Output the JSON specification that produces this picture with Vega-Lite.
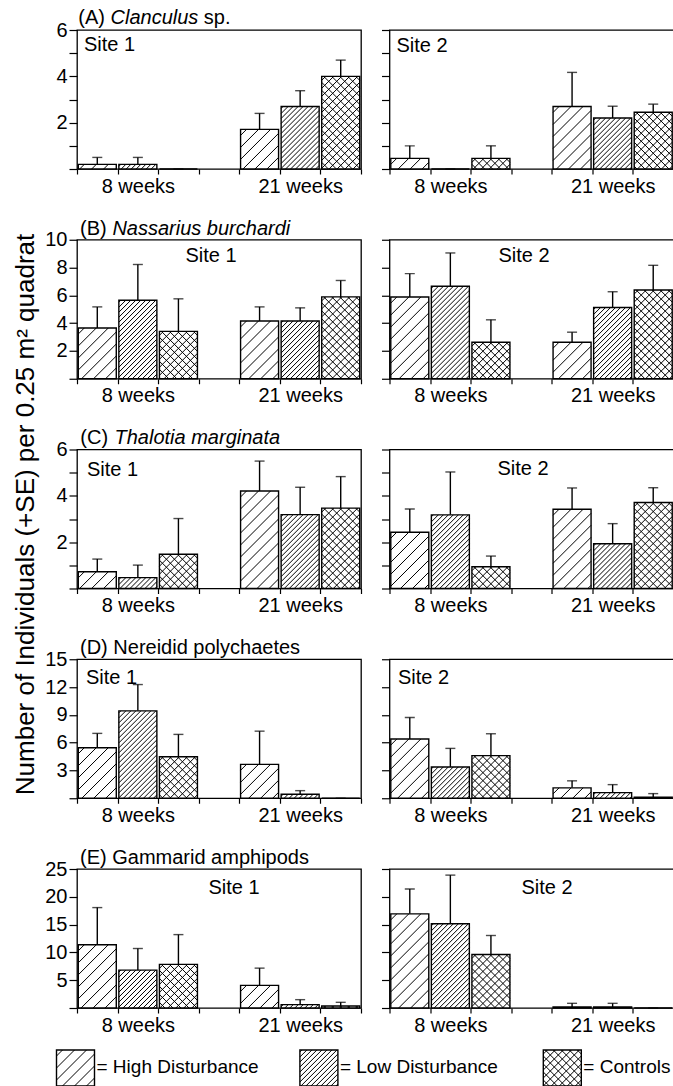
{
"$schema": "https://vega.github.io/schema/vega-lite/v6.json",
"padding": {"left": 11, "top": 7, "right": 0, "bottom": 0},
"datasets": {"bars": [
{"taxon":"A","site":"Site 1","week":"8 weeks","trt":"High","mean":0.2,"upper":0.5},
{"taxon":"A","site":"Site 1","week":"8 weeks","trt":"Low","mean":0.2,"upper":0.5},
{"taxon":"A","site":"Site 1","week":"8 weeks","trt":"Control","mean":0,"upper":0},
{"taxon":"A","site":"Site 1","week":"21 weeks","trt":"High","mean":1.71,"upper":2.4},
{"taxon":"A","site":"Site 1","week":"21 weeks","trt":"Low","mean":2.7,"upper":3.38},
{"taxon":"A","site":"Site 1","week":"21 weeks","trt":"Control","mean":4.0,"upper":4.7},
{"taxon":"A","site":"Site 2","week":"8 weeks","trt":"High","mean":0.46,"upper":1.0},
{"taxon":"A","site":"Site 2","week":"8 weeks","trt":"Low","mean":0,"upper":0},
{"taxon":"A","site":"Site 2","week":"8 weeks","trt":"Control","mean":0.46,"upper":1.0},
{"taxon":"A","site":"Site 2","week":"21 weeks","trt":"High","mean":2.7,"upper":4.17},
{"taxon":"A","site":"Site 2","week":"21 weeks","trt":"Low","mean":2.2,"upper":2.71},
{"taxon":"A","site":"Site 2","week":"21 weeks","trt":"Control","mean":2.45,"upper":2.8},
{"taxon":"B","site":"Site 1","week":"8 weeks","trt":"High","mean":3.65,"upper":5.17},
{"taxon":"B","site":"Site 1","week":"8 weeks","trt":"Low","mean":5.65,"upper":8.22},
{"taxon":"B","site":"Site 1","week":"8 weeks","trt":"Control","mean":3.41,"upper":5.75},
{"taxon":"B","site":"Site 1","week":"21 weeks","trt":"High","mean":4.16,"upper":5.17},
{"taxon":"B","site":"Site 1","week":"21 weeks","trt":"Low","mean":4.16,"upper":5.1},
{"taxon":"B","site":"Site 1","week":"21 weeks","trt":"Control","mean":5.89,"upper":7.07},
{"taxon":"B","site":"Site 2","week":"8 weeks","trt":"High","mean":5.88,"upper":7.56},
{"taxon":"B","site":"Site 2","week":"8 weeks","trt":"Low","mean":6.65,"upper":9.05},
{"taxon":"B","site":"Site 2","week":"8 weeks","trt":"Control","mean":2.63,"upper":4.24},
{"taxon":"B","site":"Site 2","week":"21 weeks","trt":"High","mean":2.63,"upper":3.35},
{"taxon":"B","site":"Site 2","week":"21 weeks","trt":"Low","mean":5.13,"upper":6.26},
{"taxon":"B","site":"Site 2","week":"21 weeks","trt":"Control","mean":6.38,"upper":8.16},
{"taxon":"C","site":"Site 1","week":"8 weeks","trt":"High","mean":0.72,"upper":1.27},
{"taxon":"C","site":"Site 1","week":"8 weeks","trt":"Low","mean":0.47,"upper":1.01},
{"taxon":"C","site":"Site 1","week":"8 weeks","trt":"Control","mean":1.48,"upper":3.02},
{"taxon":"C","site":"Site 1","week":"21 weeks","trt":"High","mean":4.21,"upper":5.5},
{"taxon":"C","site":"Site 1","week":"21 weeks","trt":"Low","mean":3.19,"upper":4.37},
{"taxon":"C","site":"Site 1","week":"21 weeks","trt":"Control","mean":3.47,"upper":4.83},
{"taxon":"C","site":"Site 2","week":"8 weeks","trt":"High","mean":2.43,"upper":3.43},
{"taxon":"C","site":"Site 2","week":"8 weeks","trt":"Low","mean":3.18,"upper":5.03},
{"taxon":"C","site":"Site 2","week":"8 weeks","trt":"Control","mean":0.94,"upper":1.4},
{"taxon":"C","site":"Site 2","week":"21 weeks","trt":"High","mean":3.42,"upper":4.34},
{"taxon":"C","site":"Site 2","week":"21 weeks","trt":"Low","mean":1.93,"upper":2.8},
{"taxon":"C","site":"Site 2","week":"21 weeks","trt":"Control","mean":3.71,"upper":4.35},
{"taxon":"D","site":"Site 1","week":"8 weeks","trt":"High","mean":5.45,"upper":7.0},
{"taxon":"D","site":"Site 1","week":"8 weeks","trt":"Low","mean":9.43,"upper":12.27},
{"taxon":"D","site":"Site 1","week":"8 weeks","trt":"Control","mean":4.48,"upper":6.89},
{"taxon":"D","site":"Site 1","week":"21 weeks","trt":"High","mean":3.66,"upper":7.24},
{"taxon":"D","site":"Site 1","week":"21 weeks","trt":"Low","mean":0.43,"upper":0.82},
{"taxon":"D","site":"Site 1","week":"21 weeks","trt":"Control","mean":0,"upper":0},
{"taxon":"D","site":"Site 2","week":"8 weeks","trt":"High","mean":6.39,"upper":8.72},
{"taxon":"D","site":"Site 2","week":"8 weeks","trt":"Low","mean":3.38,"upper":5.38},
{"taxon":"D","site":"Site 2","week":"8 weeks","trt":"Control","mean":4.6,"upper":6.96},
{"taxon":"D","site":"Site 2","week":"21 weeks","trt":"High","mean":1.12,"upper":1.88},
{"taxon":"D","site":"Site 2","week":"21 weeks","trt":"Low","mean":0.61,"upper":1.47},
{"taxon":"D","site":"Site 2","week":"21 weeks","trt":"Control","mean":0.1,"upper":0.5},
{"taxon":"E","site":"Site 1","week":"8 weeks","trt":"High","mean":11.37,"upper":18.06},
{"taxon":"E","site":"Site 1","week":"8 weeks","trt":"Low","mean":6.81,"upper":10.7},
{"taxon":"E","site":"Site 1","week":"8 weeks","trt":"Control","mean":7.84,"upper":13.2},
{"taxon":"E","site":"Site 1","week":"21 weeks","trt":"High","mean":4.07,"upper":7.17},
{"taxon":"E","site":"Site 1","week":"21 weeks","trt":"Low","mean":0.6,"upper":1.5},
{"taxon":"E","site":"Site 1","week":"21 weeks","trt":"Control","mean":0.36,"upper":1.02},
{"taxon":"E","site":"Site 2","week":"8 weeks","trt":"High","mean":16.93,"upper":21.4},
{"taxon":"E","site":"Site 2","week":"8 weeks","trt":"Low","mean":15.14,"upper":23.9},
{"taxon":"E","site":"Site 2","week":"8 weeks","trt":"Control","mean":9.63,"upper":13.04},
{"taxon":"E","site":"Site 2","week":"21 weeks","trt":"High","mean":0.18,"upper":0.84},
{"taxon":"E","site":"Site 2","week":"21 weeks","trt":"Low","mean":0.18,"upper":0.84},
{"taxon":"E","site":"Site 2","week":"21 weeks","trt":"Control","mean":0,"upper":0}
]},
"config": {
  "font": "Liberation Sans",
  "view": {"stroke": "black", "strokeWidth": 1.3, "fill": null},
  "text": {"font": "Liberation Sans", "fontSize": 20, "color": "black"},
  "axis": {"domain": false, "grid": false, "ticks": true, "tickColor": "black", "tickWidth": 1.2, "labelColor": "black", "labelFont": "Liberation Sans", "labelFontSize": 20, "labelOverlap": false, "titleFont": "Liberation Sans", "titleColor": "black", "titleFontWeight": "normal"},
  "axisX": {"tickSize": 5, "labelPadding": 2},
  "axisY": {"tickSize": 8, "labelPadding": 2, "labelOverlap": false, "tickCount": 20, "format": "d"},
  "range": {"symbol": [
    "M-19,6L-13,0M-19,18L-1,0M-19,30L11,0M-19,42L19,4M-19,54L19,16M-19,66L19,28M-19,78L19,40M-19,90L19,52M-19,102L19,64M-19,114L19,76M-19,126L19,88M-19,138L19,100M-19,150L19,112M-19,162L19,124M-19,174L19,136M-19,186L19,148",
    "M-19,2L-17,0M-19,7L-12,0M-19,12L-7,0M-19,17L-2,0M-19,22L3,0M-19,27L8,0M-19,32L13,0M-19,37L18,0M-19,42L19,4M-19,47L19,9M-19,52L19,14M-19,57L19,19M-19,62L19,24M-19,67L19,29M-19,72L19,34M-19,77L19,39M-19,82L19,44M-19,87L19,49M-19,92L19,54M-19,97L19,59M-19,102L19,64M-19,107L19,69M-19,112L19,74M-19,117L19,79M-19,122L19,84M-19,127L19,89M-19,132L19,94M-19,137L19,99M-19,142L19,104M-19,147L19,109M-19,152L19,114M-19,157L19,119M-19,162L19,124M-19,167L19,129M-19,172L19,134M-19,177L19,139M-19,182L19,144",
    "M-19,4L-15,0M-19,12L-7,0M-19,20L1,0M-19,28L9,0M-19,36L17,0M-19,44L19,6M-19,52L19,14M-19,60L19,22M-19,68L19,30M-19,76L19,38M-19,84L19,46M-19,92L19,54M-19,100L19,62M-19,108L19,70M-19,116L19,78M-19,124L19,86M-19,132L19,94M-19,140L19,102M-19,148L19,110M-19,156L19,118M-19,164L19,126M-19,172L19,134M-19,180L19,142M15,0L19,4M7,0L19,12M-1,0L19,20M-9,0L19,28M-17,0L19,36M-19,6L19,44M-19,14L19,52M-19,22L19,60M-19,30L19,68M-19,38L19,76M-19,46L19,84M-19,54L19,92M-19,62L19,100M-19,70L19,108M-19,78L19,116M-19,86L19,124M-19,94L19,132M-19,102L19,140M-19,110L19,148M-19,118L19,156M-19,126L19,164M-19,134L19,172M-19,142L19,180"
  ]}
},
"bounds": "flush",
"columns": 2,
"spacing": {"row": 70.75, "column": 28.5},
"concat": [
  {"width": 284, "height": 139, "data": {"name": "bars"},
   "transform": [{"filter": "datum.taxon === 'A' && datum.site === 'Site 1'"}, {"calculate": "datum.week + '|' + datum.trt", "as": "slot"}],
   "encoding": {"x": {"field": "slot", "type": "nominal", "title": null, "scale": {"domain": ["8 weeks|High","8 weeks|Low","8 weeks|Control","gap","21 weeks|High","21 weeks|Low","21 weeks|Control"], "paddingInner": 0, "paddingOuter": 0}, "axis": {"title": null, "tickBand": "extent", "labelAngle": 0, "labelOverlap": false, "labelExpr": "datum.value === '8 weeks|Low' ? '8 weeks' : (datum.value === '21 weeks|Low' ? '21 weeks' : '')"}}},
   "layer": [
    {"mark": {"type": "rule", "color": "black", "strokeWidth": 1.4}, "encoding": {"y": {"field": "mean", "type": "quantitative", "title": null, "scale": {"domain": [0, 6], "nice": false}, "axis": {"values": [0,1,2,3,4,5,6], "tickCount": 20, "format": "d", "labelOverlap": false, "labelExpr": "datum.value > 0 && datum.value % 2 === 0 ? datum.label : ''", "title": null}}, "y2": {"field": "upper"}}},
    {"mark": {"type": "tick", "color": "black", "size": 10, "thickness": 1.4}, "encoding": {"y": {"field": "upper", "type": "quantitative", "title": null}}},
    {"mark": {"type": "bar", "fill": "white", "width": 38}, "encoding": {"y": {"field": "mean", "type": "quantitative", "title": null}}},
    {"mark": {"type": "point", "size": 4, "filled": false, "color": "black", "strokeWidth": 1, "opacity": 1, "clip": true}, "encoding": {"y": {"field": "mean", "type": "quantitative", "title": null}, "shape": {"field": "trt", "type": "nominal", "scale": {"domain": ["High","Low","Control"]}, "legend": null}}},
    {"mark": {"type": "bar", "fillOpacity": 0, "stroke": "black", "strokeWidth": 1.4, "width": 38}, "encoding": {"y": {"field": "mean", "type": "quantitative", "title": null}}},
    {"data": {"values": [{}]}, "mark": {"type": "text", "text": "(A)", "align": "left", "baseline": "alphabetic", "dx": 1.3, "dy": -5.7}, "encoding": {"x": {"datum": "8 weeks|High", "type": "nominal", "bandPosition": 0, "title": null}, "y": {"datum": 6, "type": "quantitative", "title": null}}},
    {"data": {"values": [{}]}, "mark": {"type": "text", "text": "Clanculus", "fontStyle": "italic", "align": "left", "baseline": "alphabetic", "dx": 33.5, "dy": -5.7}, "encoding": {"x": {"datum": "8 weeks|High", "type": "nominal", "bandPosition": 0, "title": null}, "y": {"datum": 6, "type": "quantitative", "title": null}}},
    {"data": {"values": [{}]}, "mark": {"type": "text", "text": "sp.", "align": "left", "baseline": "alphabetic", "dx": 126.8, "dy": -5.7}, "encoding": {"x": {"datum": "8 weeks|High", "type": "nominal", "bandPosition": 0, "title": null}, "y": {"datum": 6, "type": "quantitative", "title": null}}},
    {"data": {"values": [{}]}, "mark": {"type": "text", "text": "Site 1", "align": "left", "baseline": "alphabetic", "dx": 7, "dy": 21}, "encoding": {"x": {"datum": "8 weeks|High", "type": "nominal", "bandPosition": 0, "title": null}, "y": {"datum": 6, "type": "quantitative", "title": null}}}
   ]},
  {"width": 284, "height": 139, "data": {"name": "bars"},
   "transform": [{"filter": "datum.taxon === 'A' && datum.site === 'Site 2'"}, {"calculate": "datum.week + '|' + datum.trt", "as": "slot"}],
   "encoding": {"x": {"field": "slot", "type": "nominal", "title": null, "scale": {"domain": ["8 weeks|High","8 weeks|Low","8 weeks|Control","gap","21 weeks|High","21 weeks|Low","21 weeks|Control"], "paddingInner": 0, "paddingOuter": 0}, "axis": {"title": null, "tickBand": "extent", "labelAngle": 0, "labelOverlap": false, "labelExpr": "datum.value === '8 weeks|Low' ? '8 weeks' : (datum.value === '21 weeks|Low' ? '21 weeks' : '')"}}},
   "layer": [
    {"mark": {"type": "rule", "color": "black", "strokeWidth": 1.4}, "encoding": {"y": {"field": "mean", "type": "quantitative", "title": null, "scale": {"domain": [0, 6], "nice": false}, "axis": {"values": [0,1,2,3,4,5,6], "tickCount": 20, "labels": false, "title": null}}, "y2": {"field": "upper"}}},
    {"mark": {"type": "tick", "color": "black", "size": 10, "thickness": 1.4}, "encoding": {"y": {"field": "upper", "type": "quantitative", "title": null}}},
    {"mark": {"type": "bar", "fill": "white", "width": 38}, "encoding": {"y": {"field": "mean", "type": "quantitative", "title": null}}},
    {"mark": {"type": "point", "size": 4, "filled": false, "color": "black", "strokeWidth": 1, "opacity": 1, "clip": true}, "encoding": {"y": {"field": "mean", "type": "quantitative", "title": null}, "shape": {"field": "trt", "type": "nominal", "scale": {"domain": ["High","Low","Control"]}, "legend": null}}},
    {"mark": {"type": "bar", "fillOpacity": 0, "stroke": "black", "strokeWidth": 1.4, "width": 38}, "encoding": {"y": {"field": "mean", "type": "quantitative", "title": null}}},
    {"data": {"values": [{}]}, "mark": {"type": "text", "text": "Site 2", "align": "left", "baseline": "alphabetic", "dx": 7, "dy": 21.5}, "encoding": {"x": {"datum": "8 weeks|High", "type": "nominal", "bandPosition": 0, "title": null}, "y": {"datum": 6, "type": "quantitative", "title": null}}}
   ]},
  {"width": 284, "height": 139, "data": {"name": "bars"},
   "transform": [{"filter": "datum.taxon === 'B' && datum.site === 'Site 1'"}, {"calculate": "datum.week + '|' + datum.trt", "as": "slot"}],
   "encoding": {"x": {"field": "slot", "type": "nominal", "title": null, "scale": {"domain": ["8 weeks|High","8 weeks|Low","8 weeks|Control","gap","21 weeks|High","21 weeks|Low","21 weeks|Control"], "paddingInner": 0, "paddingOuter": 0}, "axis": {"title": null, "tickBand": "extent", "labelAngle": 0, "labelOverlap": false, "labelExpr": "datum.value === '8 weeks|Low' ? '8 weeks' : (datum.value === '21 weeks|Low' ? '21 weeks' : '')"}}},
   "layer": [
    {"mark": {"type": "rule", "color": "black", "strokeWidth": 1.4}, "encoding": {"y": {"field": "mean", "type": "quantitative", "title": null, "scale": {"domain": [0, 10], "nice": false}, "axis": {"values": [0,2,4,6,8,10], "tickCount": 20, "format": "d", "labelOverlap": false, "labelExpr": "datum.value > 0 ? datum.label : ''", "title": null}}, "y2": {"field": "upper"}}},
    {"mark": {"type": "tick", "color": "black", "size": 10, "thickness": 1.4}, "encoding": {"y": {"field": "upper", "type": "quantitative", "title": null}}},
    {"mark": {"type": "bar", "fill": "white", "width": 38}, "encoding": {"y": {"field": "mean", "type": "quantitative", "title": null}}},
    {"mark": {"type": "point", "size": 4, "filled": false, "color": "black", "strokeWidth": 1, "opacity": 1, "clip": true}, "encoding": {"y": {"field": "mean", "type": "quantitative", "title": null}, "shape": {"field": "trt", "type": "nominal", "scale": {"domain": ["High","Low","Control"]}, "legend": null}}},
    {"mark": {"type": "bar", "fillOpacity": 0, "stroke": "black", "strokeWidth": 1.4, "width": 38}, "encoding": {"y": {"field": "mean", "type": "quantitative", "title": null}}},
    {"data": {"values": [{}]}, "mark": {"type": "text", "text": "(B)", "align": "left", "baseline": "alphabetic", "dx": 3, "dy": -4.8}, "encoding": {"x": {"datum": "8 weeks|High", "type": "nominal", "bandPosition": 0, "title": null}, "y": {"datum": 10, "type": "quantitative", "title": null}}},
    {"data": {"values": [{}]}, "mark": {"type": "text", "text": "Nassarius burchardi", "fontStyle": "italic", "align": "left", "baseline": "alphabetic", "dx": 35.4, "dy": -4.8}, "encoding": {"x": {"datum": "8 weeks|High", "type": "nominal", "bandPosition": 0, "title": null}, "y": {"datum": 10, "type": "quantitative", "title": null}}},
    {"data": {"values": [{}]}, "mark": {"type": "text", "text": "Site 1", "align": "center", "baseline": "alphabetic", "dx": 134, "dy": 22.5}, "encoding": {"x": {"datum": "8 weeks|High", "type": "nominal", "bandPosition": 0, "title": null}, "y": {"datum": 10, "type": "quantitative", "title": null}}}
   ]},
  {"width": 284, "height": 139, "data": {"name": "bars"},
   "transform": [{"filter": "datum.taxon === 'B' && datum.site === 'Site 2'"}, {"calculate": "datum.week + '|' + datum.trt", "as": "slot"}],
   "encoding": {"x": {"field": "slot", "type": "nominal", "title": null, "scale": {"domain": ["8 weeks|High","8 weeks|Low","8 weeks|Control","gap","21 weeks|High","21 weeks|Low","21 weeks|Control"], "paddingInner": 0, "paddingOuter": 0}, "axis": {"title": null, "tickBand": "extent", "labelAngle": 0, "labelOverlap": false, "labelExpr": "datum.value === '8 weeks|Low' ? '8 weeks' : (datum.value === '21 weeks|Low' ? '21 weeks' : '')"}}},
   "layer": [
    {"mark": {"type": "rule", "color": "black", "strokeWidth": 1.4}, "encoding": {"y": {"field": "mean", "type": "quantitative", "title": null, "scale": {"domain": [0, 10], "nice": false}, "axis": {"values": [0,2,4,6,8,10], "tickCount": 20, "labels": false, "title": null}}, "y2": {"field": "upper"}}},
    {"mark": {"type": "tick", "color": "black", "size": 10, "thickness": 1.4}, "encoding": {"y": {"field": "upper", "type": "quantitative", "title": null}}},
    {"mark": {"type": "bar", "fill": "white", "width": 38}, "encoding": {"y": {"field": "mean", "type": "quantitative", "title": null}}},
    {"mark": {"type": "point", "size": 4, "filled": false, "color": "black", "strokeWidth": 1, "opacity": 1, "clip": true}, "encoding": {"y": {"field": "mean", "type": "quantitative", "title": null}, "shape": {"field": "trt", "type": "nominal", "scale": {"domain": ["High","Low","Control"]}, "legend": null}}},
    {"mark": {"type": "bar", "fillOpacity": 0, "stroke": "black", "strokeWidth": 1.4, "width": 38}, "encoding": {"y": {"field": "mean", "type": "quantitative", "title": null}}},
    {"data": {"values": [{}]}, "mark": {"type": "text", "text": "Site 2", "align": "center", "baseline": "alphabetic", "dx": 134.5, "dy": 22}, "encoding": {"x": {"datum": "8 weeks|High", "type": "nominal", "bandPosition": 0, "title": null}, "y": {"datum": 10, "type": "quantitative", "title": null}}}
   ]},
  {"width": 284, "height": 139, "data": {"name": "bars"},
   "transform": [{"filter": "datum.taxon === 'C' && datum.site === 'Site 1'"}, {"calculate": "datum.week + '|' + datum.trt", "as": "slot"}],
   "encoding": {"x": {"field": "slot", "type": "nominal", "title": null, "scale": {"domain": ["8 weeks|High","8 weeks|Low","8 weeks|Control","gap","21 weeks|High","21 weeks|Low","21 weeks|Control"], "paddingInner": 0, "paddingOuter": 0}, "axis": {"title": null, "tickBand": "extent", "labelAngle": 0, "labelOverlap": false, "labelExpr": "datum.value === '8 weeks|Low' ? '8 weeks' : (datum.value === '21 weeks|Low' ? '21 weeks' : '')"}}},
   "layer": [
    {"mark": {"type": "rule", "color": "black", "strokeWidth": 1.4}, "encoding": {"y": {"field": "mean", "type": "quantitative", "title": "Number of Individuals (+SE) per 0.25 m² quadrat", "scale": {"domain": [0, 6], "nice": false}, "axis": {"values": [0,1,2,3,4,5,6], "tickCount": 20, "format": "d", "labelOverlap": false, "labelExpr": "datum.value > 0 && datum.value % 2 === 0 ? datum.label : ''", "title": "Number of Individuals (+SE) per 0.25 m² quadrat", "titleFontSize": 26, "titlePadding": 18, "titleY": 64.5, "minExtent": 21, "maxExtent": 21}}, "y2": {"field": "upper"}}},
    {"mark": {"type": "tick", "color": "black", "size": 10, "thickness": 1.4}, "encoding": {"y": {"field": "upper", "type": "quantitative"}}},
    {"mark": {"type": "bar", "fill": "white", "width": 38}, "encoding": {"y": {"field": "mean", "type": "quantitative"}}},
    {"mark": {"type": "point", "size": 4, "filled": false, "color": "black", "strokeWidth": 1, "opacity": 1, "clip": true}, "encoding": {"y": {"field": "mean", "type": "quantitative"}, "shape": {"field": "trt", "type": "nominal", "scale": {"domain": ["High","Low","Control"]}, "legend": null}}},
    {"mark": {"type": "bar", "fillOpacity": 0, "stroke": "black", "strokeWidth": 1.4, "width": 38}, "encoding": {"y": {"field": "mean", "type": "quantitative"}}},
    {"data": {"values": [{}]}, "mark": {"type": "text", "text": "(C)", "align": "left", "baseline": "alphabetic", "dx": 3.3, "dy": -5.6}, "encoding": {"x": {"datum": "8 weeks|High", "type": "nominal", "bandPosition": 0, "title": null}, "y": {"datum": 6, "type": "quantitative"}}},
    {"data": {"values": [{}]}, "mark": {"type": "text", "text": "Thalotia marginata", "fontStyle": "italic", "align": "left", "baseline": "alphabetic", "dx": 37.5, "dy": -5.6}, "encoding": {"x": {"datum": "8 weeks|High", "type": "nominal", "bandPosition": 0, "title": null}, "y": {"datum": 6, "type": "quantitative"}}},
    {"data": {"values": [{}]}, "mark": {"type": "text", "text": "Site 1", "align": "left", "baseline": "alphabetic", "dx": 10, "dy": 26}, "encoding": {"x": {"datum": "8 weeks|High", "type": "nominal", "bandPosition": 0, "title": null}, "y": {"datum": 6, "type": "quantitative"}}}
   ]},
  {"width": 284, "height": 139, "data": {"name": "bars"},
   "transform": [{"filter": "datum.taxon === 'C' && datum.site === 'Site 2'"}, {"calculate": "datum.week + '|' + datum.trt", "as": "slot"}],
   "encoding": {"x": {"field": "slot", "type": "nominal", "title": null, "scale": {"domain": ["8 weeks|High","8 weeks|Low","8 weeks|Control","gap","21 weeks|High","21 weeks|Low","21 weeks|Control"], "paddingInner": 0, "paddingOuter": 0}, "axis": {"title": null, "tickBand": "extent", "labelAngle": 0, "labelOverlap": false, "labelExpr": "datum.value === '8 weeks|Low' ? '8 weeks' : (datum.value === '21 weeks|Low' ? '21 weeks' : '')"}}},
   "layer": [
    {"mark": {"type": "rule", "color": "black", "strokeWidth": 1.4}, "encoding": {"y": {"field": "mean", "type": "quantitative", "title": null, "scale": {"domain": [0, 6], "nice": false}, "axis": {"values": [0,1,2,3,4,5,6], "tickCount": 20, "labels": false, "title": null}}, "y2": {"field": "upper"}}},
    {"mark": {"type": "tick", "color": "black", "size": 10, "thickness": 1.4}, "encoding": {"y": {"field": "upper", "type": "quantitative", "title": null}}},
    {"mark": {"type": "bar", "fill": "white", "width": 38}, "encoding": {"y": {"field": "mean", "type": "quantitative", "title": null}}},
    {"mark": {"type": "point", "size": 4, "filled": false, "color": "black", "strokeWidth": 1, "opacity": 1, "clip": true}, "encoding": {"y": {"field": "mean", "type": "quantitative", "title": null}, "shape": {"field": "trt", "type": "nominal", "scale": {"domain": ["High","Low","Control"]}, "legend": null}}},
    {"mark": {"type": "bar", "fillOpacity": 0, "stroke": "black", "strokeWidth": 1.4, "width": 38}, "encoding": {"y": {"field": "mean", "type": "quantitative", "title": null}}},
    {"data": {"values": [{}]}, "mark": {"type": "text", "text": "Site 2", "align": "center", "baseline": "alphabetic", "dx": 133.5, "dy": 25.5}, "encoding": {"x": {"datum": "8 weeks|High", "type": "nominal", "bandPosition": 0, "title": null}, "y": {"datum": 6, "type": "quantitative", "title": null}}}
   ]},
  {"width": 284, "height": 139, "data": {"name": "bars"},
   "transform": [{"filter": "datum.taxon === 'D' && datum.site === 'Site 1'"}, {"calculate": "datum.week + '|' + datum.trt", "as": "slot"}],
   "encoding": {"x": {"field": "slot", "type": "nominal", "title": null, "scale": {"domain": ["8 weeks|High","8 weeks|Low","8 weeks|Control","gap","21 weeks|High","21 weeks|Low","21 weeks|Control"], "paddingInner": 0, "paddingOuter": 0}, "axis": {"title": null, "tickBand": "extent", "labelAngle": 0, "labelOverlap": false, "labelExpr": "datum.value === '8 weeks|Low' ? '8 weeks' : (datum.value === '21 weeks|Low' ? '21 weeks' : '')"}}},
   "layer": [
    {"mark": {"type": "rule", "color": "black", "strokeWidth": 1.4}, "encoding": {"y": {"field": "mean", "type": "quantitative", "title": null, "scale": {"domain": [0, 15], "nice": false}, "axis": {"values": [0,3,6,9,12,15], "tickCount": 20, "format": "d", "labelOverlap": false, "labelExpr": "datum.value > 0 ? datum.label : ''", "title": null}}, "y2": {"field": "upper"}}},
    {"mark": {"type": "tick", "color": "black", "size": 10, "thickness": 1.4}, "encoding": {"y": {"field": "upper", "type": "quantitative", "title": null}}},
    {"mark": {"type": "bar", "fill": "white", "width": 38}, "encoding": {"y": {"field": "mean", "type": "quantitative", "title": null}}},
    {"mark": {"type": "point", "size": 4, "filled": false, "color": "black", "strokeWidth": 1, "opacity": 1, "clip": true}, "encoding": {"y": {"field": "mean", "type": "quantitative", "title": null}, "shape": {"field": "trt", "type": "nominal", "scale": {"domain": ["High","Low","Control"]}, "legend": null}}},
    {"mark": {"type": "bar", "fillOpacity": 0, "stroke": "black", "strokeWidth": 1.4, "width": 38}, "encoding": {"y": {"field": "mean", "type": "quantitative", "title": null}}},
    {"data": {"values": [{}]}, "mark": {"type": "text", "text": "(D) Nereidid polychaetes", "align": "left", "baseline": "alphabetic", "dx": 3, "dy": -5.7}, "encoding": {"x": {"datum": "8 weeks|High", "type": "nominal", "bandPosition": 0, "title": null}, "y": {"datum": 15, "type": "quantitative", "title": null}}},
    {"data": {"values": [{}]}, "mark": {"type": "text", "text": "Site 1", "align": "left", "baseline": "alphabetic", "dx": 9, "dy": 24.5}, "encoding": {"x": {"datum": "8 weeks|High", "type": "nominal", "bandPosition": 0, "title": null}, "y": {"datum": 15, "type": "quantitative", "title": null}}}
   ]},
  {"width": 284, "height": 139, "data": {"name": "bars"},
   "transform": [{"filter": "datum.taxon === 'D' && datum.site === 'Site 2'"}, {"calculate": "datum.week + '|' + datum.trt", "as": "slot"}],
   "encoding": {"x": {"field": "slot", "type": "nominal", "title": null, "scale": {"domain": ["8 weeks|High","8 weeks|Low","8 weeks|Control","gap","21 weeks|High","21 weeks|Low","21 weeks|Control"], "paddingInner": 0, "paddingOuter": 0}, "axis": {"title": null, "tickBand": "extent", "labelAngle": 0, "labelOverlap": false, "labelExpr": "datum.value === '8 weeks|Low' ? '8 weeks' : (datum.value === '21 weeks|Low' ? '21 weeks' : '')"}}},
   "layer": [
    {"mark": {"type": "rule", "color": "black", "strokeWidth": 1.4}, "encoding": {"y": {"field": "mean", "type": "quantitative", "title": null, "scale": {"domain": [0, 15], "nice": false}, "axis": {"values": [0,3,6,9,12,15], "tickCount": 20, "labels": false, "title": null}}, "y2": {"field": "upper"}}},
    {"mark": {"type": "tick", "color": "black", "size": 10, "thickness": 1.4}, "encoding": {"y": {"field": "upper", "type": "quantitative", "title": null}}},
    {"mark": {"type": "bar", "fill": "white", "width": 38}, "encoding": {"y": {"field": "mean", "type": "quantitative", "title": null}}},
    {"mark": {"type": "point", "size": 4, "filled": false, "color": "black", "strokeWidth": 1, "opacity": 1, "clip": true}, "encoding": {"y": {"field": "mean", "type": "quantitative", "title": null}, "shape": {"field": "trt", "type": "nominal", "scale": {"domain": ["High","Low","Control"]}, "legend": null}}},
    {"mark": {"type": "bar", "fillOpacity": 0, "stroke": "black", "strokeWidth": 1.4, "width": 38}, "encoding": {"y": {"field": "mean", "type": "quantitative", "title": null}}},
    {"data": {"values": [{}]}, "mark": {"type": "text", "text": "Site 2", "align": "left", "baseline": "alphabetic", "dx": 8.5, "dy": 25}, "encoding": {"x": {"datum": "8 weeks|High", "type": "nominal", "bandPosition": 0, "title": null}, "y": {"datum": 15, "type": "quantitative", "title": null}}}
   ]},
  {"width": 284, "height": 139, "data": {"name": "bars"},
   "transform": [{"filter": "datum.taxon === 'E' && datum.site === 'Site 1'"}, {"calculate": "datum.week + '|' + datum.trt", "as": "slot"}],
   "encoding": {"x": {"field": "slot", "type": "nominal", "title": null, "scale": {"domain": ["8 weeks|High","8 weeks|Low","8 weeks|Control","gap","21 weeks|High","21 weeks|Low","21 weeks|Control"], "paddingInner": 0, "paddingOuter": 0}, "axis": {"title": null, "tickBand": "extent", "labelAngle": 0, "labelOverlap": false, "labelExpr": "datum.value === '8 weeks|Low' ? '8 weeks' : (datum.value === '21 weeks|Low' ? '21 weeks' : '')"}}},
   "layer": [
    {"mark": {"type": "rule", "color": "black", "strokeWidth": 1.4}, "encoding": {"y": {"field": "mean", "type": "quantitative", "title": null, "scale": {"domain": [0, 25], "nice": false}, "axis": {"values": [0,5,10,15,20,25], "tickCount": 20, "format": "d", "labelOverlap": false, "labelExpr": "datum.value > 0 ? datum.label : ''", "title": null}}, "y2": {"field": "upper"}}},
    {"mark": {"type": "tick", "color": "black", "size": 10, "thickness": 1.4}, "encoding": {"y": {"field": "upper", "type": "quantitative", "title": null}}},
    {"mark": {"type": "bar", "fill": "white", "width": 38}, "encoding": {"y": {"field": "mean", "type": "quantitative", "title": null}}},
    {"mark": {"type": "point", "size": 4, "filled": false, "color": "black", "strokeWidth": 1, "opacity": 1, "clip": true}, "encoding": {"y": {"field": "mean", "type": "quantitative", "title": null}, "shape": {"field": "trt", "type": "nominal", "scale": {"domain": ["High","Low","Control"]}, "legend": null}}},
    {"mark": {"type": "bar", "fillOpacity": 0, "stroke": "black", "strokeWidth": 1.4, "width": 38}, "encoding": {"y": {"field": "mean", "type": "quantitative", "title": null}}},
    {"data": {"values": [{}]}, "mark": {"type": "text", "text": "(E) Gammarid amphipods", "align": "left", "baseline": "alphabetic", "dx": 3, "dy": -5}, "encoding": {"x": {"datum": "8 weeks|High", "type": "nominal", "bandPosition": 0, "title": null}, "y": {"datum": 25, "type": "quantitative", "title": null}}},
    {"data": {"values": [{}]}, "mark": {"type": "text", "text": "Site 1", "align": "center", "baseline": "alphabetic", "dx": 157, "dy": 25}, "encoding": {"x": {"datum": "8 weeks|High", "type": "nominal", "bandPosition": 0, "title": null}, "y": {"datum": 25, "type": "quantitative", "title": null}}}
   ]},
  {"width": 284, "height": 139, "data": {"name": "bars"},
   "transform": [{"filter": "datum.taxon === 'E' && datum.site === 'Site 2'"}, {"calculate": "datum.week + '|' + datum.trt", "as": "slot"}],
   "encoding": {"x": {"field": "slot", "type": "nominal", "title": null, "scale": {"domain": ["8 weeks|High","8 weeks|Low","8 weeks|Control","gap","21 weeks|High","21 weeks|Low","21 weeks|Control"], "paddingInner": 0, "paddingOuter": 0}, "axis": {"title": null, "tickBand": "extent", "labelAngle": 0, "labelOverlap": false, "labelExpr": "datum.value === '8 weeks|Low' ? '8 weeks' : (datum.value === '21 weeks|Low' ? '21 weeks' : '')"}}},
   "layer": [
    {"mark": {"type": "rule", "color": "black", "strokeWidth": 1.4}, "encoding": {"y": {"field": "mean", "type": "quantitative", "title": null, "scale": {"domain": [0, 25], "nice": false}, "axis": {"values": [0,5,10,15,20,25], "tickCount": 20, "labels": false, "title": null}}, "y2": {"field": "upper"}}},
    {"mark": {"type": "tick", "color": "black", "size": 10, "thickness": 1.4}, "encoding": {"y": {"field": "upper", "type": "quantitative", "title": null}}},
    {"mark": {"type": "bar", "fill": "white", "width": 38}, "encoding": {"y": {"field": "mean", "type": "quantitative", "title": null}}},
    {"mark": {"type": "point", "size": 4, "filled": false, "color": "black", "strokeWidth": 1, "opacity": 1, "clip": true}, "encoding": {"y": {"field": "mean", "type": "quantitative", "title": null}, "shape": {"field": "trt", "type": "nominal", "scale": {"domain": ["High","Low","Control"]}, "legend": null}}},
    {"mark": {"type": "bar", "fillOpacity": 0, "stroke": "black", "strokeWidth": 1.4, "width": 38}, "encoding": {"y": {"field": "mean", "type": "quantitative", "title": null}}},
    {"data": {"values": [{}]}, "mark": {"type": "text", "text": "Site 2", "align": "center", "baseline": "alphabetic", "dx": 157.5, "dy": 24.5}, "encoding": {"x": {"datum": "8 weeks|High", "type": "nominal", "bandPosition": 0, "title": null}, "y": {"datum": 25, "type": "quantitative", "title": null}}}
   ]},
  {"width": 284, "height": 8, "view": {"stroke": null},
   "data": {"values": [{"trt": "High", "label": "= High Disturbance"}, {"trt": "Low", "label": "= Low Disturbance"}, {"trt": "Control", "label": "= Controls"}]},
   "encoding": {"x": {"field": "trt", "type": "nominal", "title": null, "axis": null, "scale": {"type": "point", "domain": ["High","Low","Control"], "range": [-1.5, 485.3], "padding": 0}}},
   "layer": [
    {"mark": {"type": "bar", "fill": "white", "width": 38}, "encoding": {"y": {"datum": 1, "type": "quantitative", "axis": null, "scale": {"domain": [0, 1], "range": [7.25, -28.75]}}, "y2": {"datum": 0}}},
    {"transform": [{"filter": "datum.trt === 'High'"}], "mark": {"type": "point", "shape": "M-19,6L-13,0M-19,18L-1,0M-19,30L11,0M-13,36L19,4M-1,36L19,16M11,36L19,28", "size": 4, "filled": false, "color": "black", "strokeWidth": 1, "opacity": 1}, "encoding": {"y": {"datum": 1, "type": "quantitative"}}},
    {"transform": [{"filter": "datum.trt === 'Low'"}], "mark": {"type": "point", "shape": "M-19,2L-17,0M-19,7L-12,0M-19,12L-7,0M-19,17L-2,0M-19,22L3,0M-19,27L8,0M-19,32L13,0M-18,36L18,0M-13,36L19,4M-8,36L19,9M-3,36L19,14M2,36L19,19M7,36L19,24M12,36L19,29M17,36L19,34", "size": 4, "filled": false, "color": "black", "strokeWidth": 1, "opacity": 1}, "encoding": {"y": {"datum": 1, "type": "quantitative"}}},
    {"transform": [{"filter": "datum.trt === 'Control'"}], "mark": {"type": "point", "shape": "M-19,4L-15,0M-19,12L-7,0M-19,20L1,0M-19,28L9,0M-19,36L17,0M-11,36L19,6M-3,36L19,14M5,36L19,22M13,36L19,30M15,0L19,4M7,0L19,12M-1,0L19,20M-9,0L19,28M-17,0L19,36M-19,6L11,36M-19,14L3,36M-19,22L-5,36M-19,30L-13,36", "size": 4, "filled": false, "color": "black", "strokeWidth": 1, "opacity": 1}, "encoding": {"y": {"datum": 1, "type": "quantitative"}}},
    {"mark": {"type": "bar", "fillOpacity": 0, "stroke": "black", "strokeWidth": 1.4, "width": 38}, "encoding": {"y": {"datum": 1, "type": "quantitative"}, "y2": {"datum": 0}}},
    {"mark": {"type": "text", "align": "left", "baseline": "middle", "dx": 21, "dy": -1, "fontSize": 19}, "encoding": {"y": {"datum": 0.5, "type": "quantitative"}, "text": {"field": "label"}}}
   ]}
]
}
